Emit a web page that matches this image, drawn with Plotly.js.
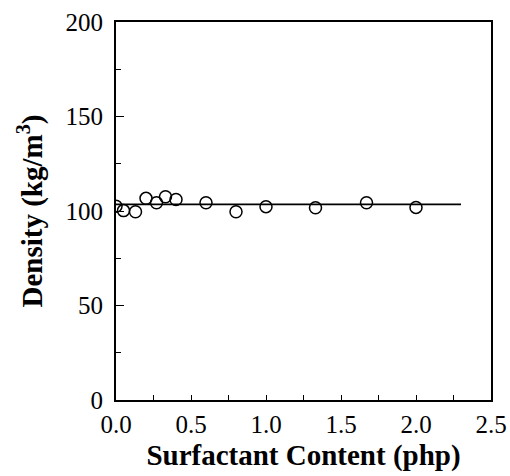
<!DOCTYPE html>
<html>
<head>
<meta charset="utf-8">
<script src="https://cdn.plot.ly/plotly-3.0.1.min.js"></script>
<style>html,body{margin:0;padding:0;background:#fff;}#chart{width:510px;height:476px;}</style>
</head>
<body>
<div id="chart"></div>
<script>
// Surfactant content (php) and measured density (kg/m^3)
const surfactant = [0.0, 0.05, 0.13, 0.2, 0.27, 0.33, 0.4, 0.6, 0.8, 1.0, 1.33, 1.67, 2.0];
const density = [102.5, 100.2, 99.6, 106.7, 104.4, 107.5, 106.1, 104.4, 99.6, 102.3, 101.7, 104.4, 101.9];
// Mean density line
const fitX = [0.0, 2.3];
const fitY = [103.5, 103.5];
const xTicks = [0, 0.5, 1.0, 1.5, 2.0, 2.5];
const xTickText = ["0.0", "0.5", "1.0", "1.5", "2.0", "2.5"];
const yTicks = [0, 50, 100, 150, 200];

const fontFamily = '"Liberation Serif", "Times New Roman", serif';

const data = [
  {x: fitX, y: fitY, mode: 'lines', type: 'scatter',
   line: {color: '#000', width: 1.6}, hoverinfo: 'skip'},
  {x: surfactant, y: density, mode: 'markers', type: 'scatter',
   marker: {symbol: 'circle-open', size: 12, color: '#000', line: {width: 1.5, color: '#000'}}}
];

const layout = {
  width: 510, height: 476,
  margin: {l: 116, r: 19, t: 22, b: 76},
  showlegend: false,
  paper_bgcolor: '#fff', plot_bgcolor: '#fff',
  font: {family: fontFamily, color: '#000', size: 25},
  xaxis: {
    range: [0, 2.5], tickvals: xTicks, ticktext: xTickText,
    ticks: 'inside', ticklen: 5, tickwidth: 1, tickcolor: '#000',
    minor: {dtick: 0.25, ticks: 'inside', ticklen: 5, tickwidth: 1, tickcolor: '#000'},
    showgrid: false, zeroline: false,
    showline: true, linecolor: '#000', linewidth: 2, mirror: true,
    ticklabelstandoff: 1,
    tickfont: {family: fontFamily, size: 25, color: '#000'},
    title: {text: 'Surfactant Content (php)', font: {family: fontFamily, size: 29, color: '#000', weight: 'bold'}, standoff: 8}
  },
  yaxis: {
    range: [0, 200], tickvals: yTicks,
    ticks: 'inside', ticklen: 8, tickwidth: 1, tickcolor: '#000',
    minor: {dtick: 25, ticks: 'inside', ticklen: 5, tickwidth: 1, tickcolor: '#000'},
    showgrid: false, zeroline: false,
    showline: true, linecolor: '#000', linewidth: 2, mirror: true,
    ticklabelstandoff: 6,
    tickfont: {family: fontFamily, size: 25, color: '#000'},
    title: {text: 'Density (kg/m<sup>3</sup>)', font: {family: fontFamily, size: 29, color: '#000', weight: 'bold'}, standoff: 14}
  }
};

Plotly.newPlot('chart', data, layout, {displayModeBar: false, staticPlot: true});
</script>
</body>
</html>
